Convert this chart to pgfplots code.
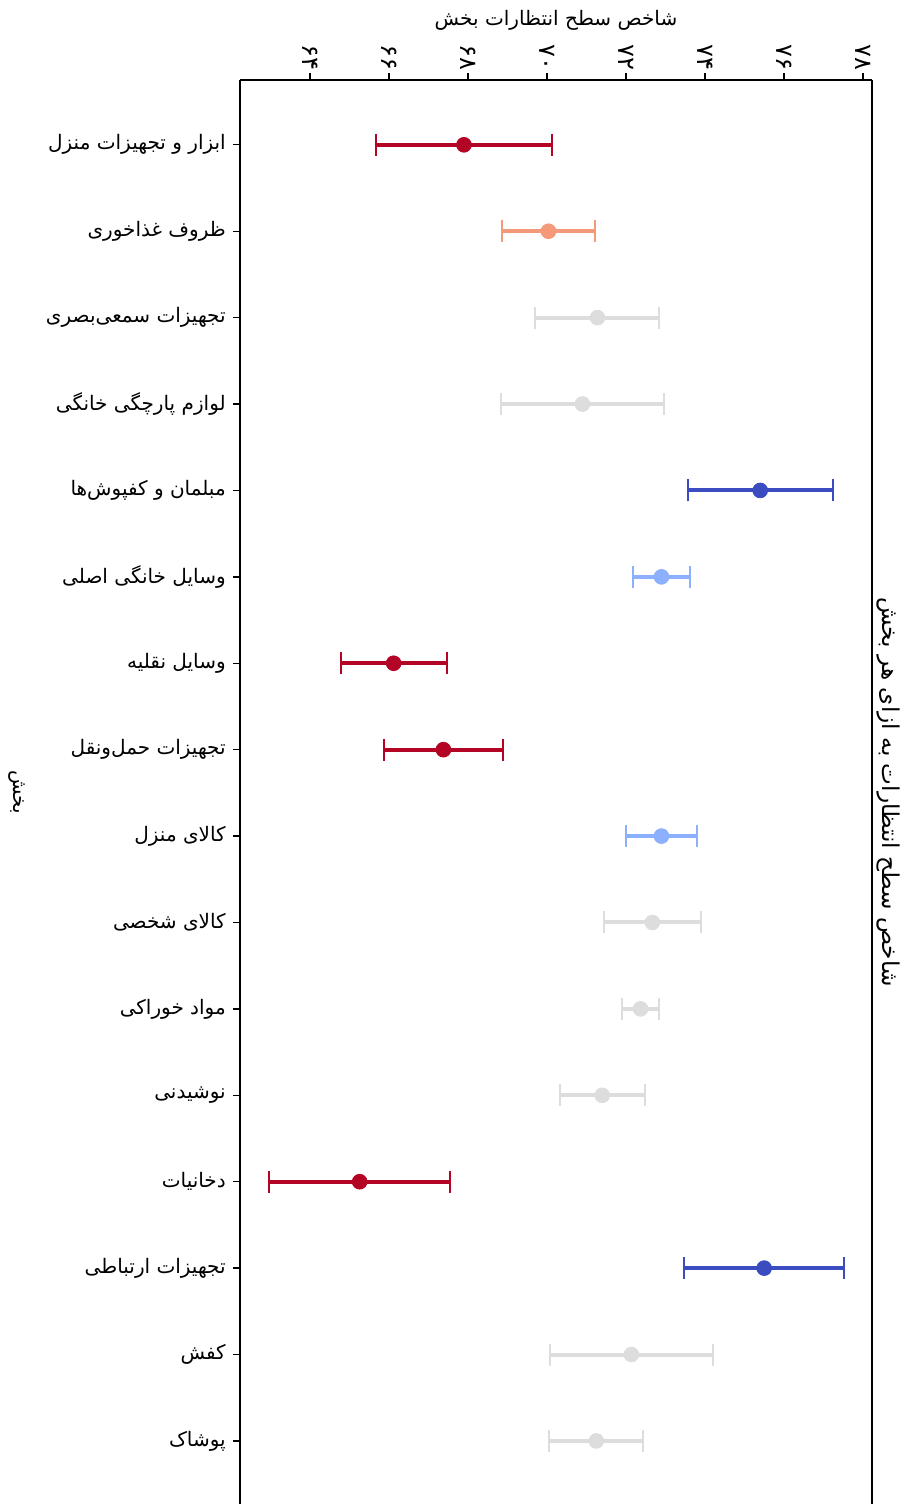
\documentclass[border=0pt]{standalone}
\usepackage{pgfplots}
\pgfplotsset{compat=1.18}
\usepackage{fontspec}
\setmainfont{DejaVu Sans}
\newfontfamily\fa[Script=Arabic]{DejaVu Sans}
\TeXXeTstate=1
\definecolor{cDR}{HTML}{B40426}
\definecolor{cSA}{HTML}{F49A7B}
\definecolor{cGR}{HTML}{DDDDDD}
\definecolor{cLB}{HTML}{8DB0FE}
\definecolor{cBL}{HTML}{3B4CC0}
\pgfplotsset{eb/.style={color=#1, only marks, mark=*, mark size=3.7pt,
  mark options={fill=#1, draw=#1, solid},
  error bars/.cd, x dir=both, x explicit, error mark=|,
  error bar style={line width=2pt, color=#1, solid},
  error mark options={line width=1pt, mark size=5.5pt, color=#1, solid}}}
\begin{document}
\begin{tikzpicture}
\begin{axis}[
  scale only axis, width=316pt, height=712pt,
  xmin=62.23, xmax=78.23, ymin=-0.75, ymax=15.73, y dir=reverse,
  axis x line*=top, axis y line*=box,
  axis line style={line width=0.65pt, black},
  tick style={line width=0.65pt, black},
  major tick length=3.6pt,
  tick align=outside,
  ytick pos=left,
  xtick={64,66,68,70,72,74,76,78},
  xticklabels={۶۴,۶۶,۶۸,۷۰,۷۲,۷۴,۷۶,۷۸},
  xticklabel style={font=\fa\fontsize{12}{14}\selectfont, rotate=-90, anchor=east, inner sep=1pt},
  ytick={0,...,15},
  yticklabels={
    {\fa\beginR ابزار و تجهیزات منزل\endR},
    {\fa\beginR ظروف غذاخوری\endR},
    {\fa\beginR تجهیزات سمعی^^^^200cبصری\endR},
    {\fa\beginR لوازم پارچگی خانگی\endR},
    {\fa\beginR مبلمان و کفپوش^^^^200cها\endR},
    {\fa\beginR وسایل خانگی اصلی\endR},
    {\fa\beginR وسایل نقلیه\endR},
    {\fa\beginR تجهیزات حمل^^^^200cونقل\endR},
    {\fa\beginR کالای منزل\endR},
    {\fa\beginR کالای شخصی\endR},
    {\fa\beginR مواد خوراکی\endR},
    {\fa\beginR نوشیدنی\endR},
    {\fa\beginR دخانیات\endR},
    {\fa\beginR تجهیزات ارتباطی\endR},
    {\fa\beginR کفش\endR},
    {\fa\beginR پوشاک\endR}},
  yticklabel style={font=\fontsize{10}{12}\selectfont},
  xlabel={\fa\beginR شاخص سطح انتظارات بخش\endR},
  every axis x label/.style={at={(rel axis cs:0.5,1)}, anchor=center, yshift=30pt, font=\fontsize{10}{12}\selectfont},
  ylabel={\fa\beginR بخش\endR},
  every axis y label/.style={at={(rel axis cs:0,0.5)}, anchor=center, xshift=-111.5pt, rotate=-90, font=\fontsize{10}{12}\selectfont},
  title={\fa\beginR شاخص سطح انتظارات به ازای هر بخش\endR},
  every axis title/.style={at={(rel axis cs:1,0.5)}, anchor=center, xshift=8pt, rotate=-90, font=\fontsize{11.6}{14}\selectfont},
]
\addplot[eb=cDR] coordinates {(67.90,0) +- (2.23,0)};
\addplot[eb=cSA] coordinates {(70.04,1) +- (1.18,0)};
\addplot[eb=cGR] coordinates {(71.28,2) +- (1.57,0)};
\addplot[eb=cGR] coordinates {(70.90,3) +- (2.07,0)};
\addplot[eb=cBL] coordinates {(75.40,4) +- (1.83,0)};
\addplot[eb=cLB] coordinates {(72.90,5) +- (0.73,0)};
\addplot[eb=cDR] coordinates {(66.12,6) +- (1.34,0)};
\addplot[eb=cDR] coordinates {(67.38,7) +- (1.50,0)};
\addplot[eb=cLB] coordinates {(72.90,8) +- (0.90,0)};
\addplot[eb=cGR] coordinates {(72.67,9) +- (1.23,0)};
\addplot[eb=cGR] coordinates {(72.37,10) +- (0.48,0)};
\addplot[eb=cGR] coordinates {(71.40,11) +- (1.08,0)};
\addplot[eb=cDR] coordinates {(65.26,12) +- (2.29,0)};
\addplot[eb=cBL] coordinates {(75.50,13) +- (2.02,0)};
\addplot[eb=cGR] coordinates {(72.14,14) +- (2.07,0)};
\addplot[eb=cGR] coordinates {(71.25,15) +- (1.19,0)};
\end{axis}
\pgfresetboundingbox
\path[use as bounding box] ([xshift=-120pt]current axis.south west) rectangle ([xshift=18pt,yshift=40pt]current axis.north east);
\end{tikzpicture}
\end{document}
